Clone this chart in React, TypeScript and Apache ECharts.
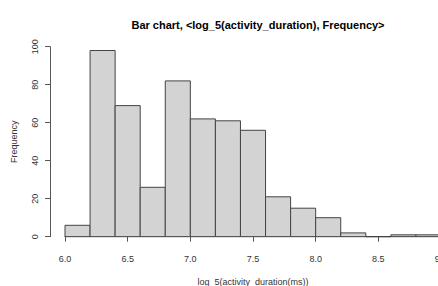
import React, { useEffect, useRef } from "react";
import * as echarts from "echarts";

const binStarts = [6.0, 6.2, 6.4, 6.6, 6.8, 7.0, 7.2, 7.4, 7.6, 7.8, 8.0, 8.2, 8.4, 8.6, 8.8];
const binEnds = [6.2, 6.4, 6.6, 6.8, 7.0, 7.2, 7.4, 7.6, 7.8, 8.0, 8.2, 8.4, 8.6, 8.8, 9.0];
const counts = [6, 98, 69, 26, 82, 62, 61, 56, 21, 15, 10, 2, 0, 1, 1];
const xTicks = [6.0, 6.5, 7.0, 7.5, 8.0, 8.5, 9.0];
const yTicks = [0, 20, 40, 60, 80, 100];

const FONT = "Liberation Sans, Arial, sans-serif";

export default function App() {
  const ref = useRef<HTMLDivElement>(null);
  useEffect(() => {
    if (!ref.current) return;
    const chart = echarts.init(ref.current, null, { renderer: "svg" });
    const data = binStarts.map((s, i) => [s, binEnds[i], counts[i]]);
    chart.setOption({
      animation: false,
      backgroundColor: "#ffffff",
      title: {
        text: "Bar chart, <log_5(activity_duration), Frequency>",
        left: 253,
        textAlign: "center",
        top: 14,
        textStyle: { fontFamily: FONT, fontSize: 11, fontWeight: "bold", color: "#000" },
      },
      grid: {
        left: 65,
        top: 46.7,
        width: 376,
        height: 190,
        containLabel: false,
        outerBoundsMode: "none",
      },
      xAxis: {
        type: "value",
        min: 6,
        max: 9,
        interval: 0.5,
        offset: 7.6,
        name: "log_5(activity_duration(ms))",
        nameLocation: "middle",
        nameGap: 33,
        nameTextStyle: { fontFamily: FONT, fontSize: 9, color: "#333" },
        axisLine: { show: true, lineStyle: { color: "#555", width: 1 } },
        axisTick: { show: true, length: 5, lineStyle: { color: "#555" } },
        axisLabel: {
          fontFamily: FONT,
          fontSize: 9,
          color: "#333",
          margin: 10,
          showMaxLabel: true,
          formatter: (v: number) => {
            const found = xTicks.find((t) => Math.abs(t - v) < 1e-6);
            return found === undefined ? "" : found.toFixed(1);
          },
        },
        splitLine: { show: false },
      },
      yAxis: {
        type: "value",
        min: 0,
        max: 100,
        interval: 20,
        offset: 15,
        name: "Frequency",
        nameLocation: "middle",
        nameGap: 32,
        nameRotate: 90,
        nameTextStyle: { fontFamily: FONT, fontSize: 9, color: "#333" },
        axisLine: { show: true, lineStyle: { color: "#555", width: 1 } },
        axisTick: { show: true, length: 5, lineStyle: { color: "#555" } },
        axisLabel: {
          fontFamily: FONT,
          fontSize: 9,
          color: "#333",
          rotate: 90,
          margin: 11,
          formatter: (v: number) => (yTicks.includes(v) ? String(v) : ""),
        },
        splitLine: { show: false },
      },
      series: [
        {
          type: "custom",
          data,
          clip: false,
          renderItem: (params: any, api: any) => {
            const x0 = api.value(0);
            const x1 = api.value(1);
            const c = api.value(2);
            const p0 = api.coord([x0, c]);
            const p1 = api.coord([x1, 0]);
            return {
              type: "rect",
              shape: { x: p0[0], y: p0[1], width: p1[0] - p0[0], height: p1[1] - p0[1] },
              style: { fill: "#d3d3d3", stroke: "#444", lineWidth: 1 },
            };
          },
        },
      ],
    });
    return () => chart.dispose();
  }, []);
  return (
    <div
      ref={ref}
      style={{ position: "fixed", left: 0, top: 0, width: 438, height: 286 }}
    />
  );
}
